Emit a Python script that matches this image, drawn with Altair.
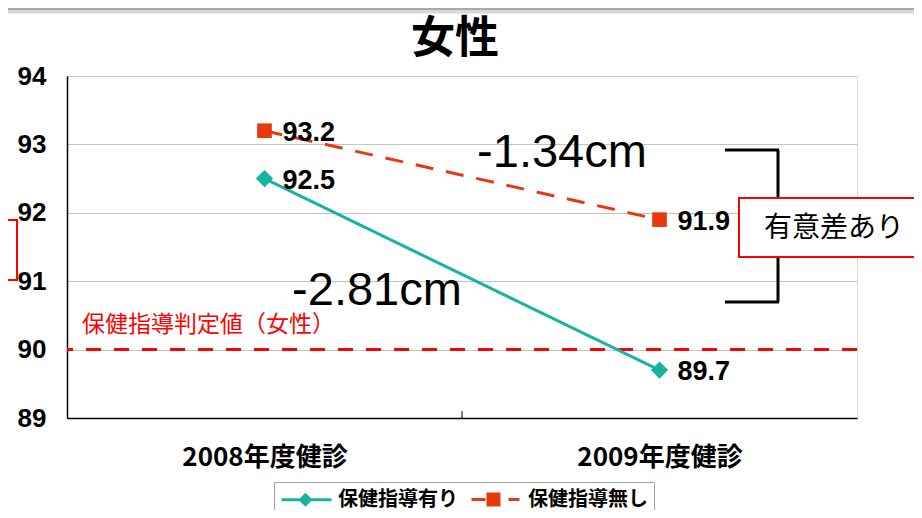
import altair as alt
import pandas as pd

# ---- data ----
categories = ["2008年度健診", "2009年度健診"]
series_names = ["保健指導有り", "保健指導無し"]
with_guidance = [92.5, 89.7]
without_guidance = [93.2, 91.9]
threshold_value = [90]
threshold_label = "保健指導判定値（女性）"
diff_texts = ["-2.81cm", "-1.34cm"]
sig_text = "有意差あり"
title_text = "女性"
y_ticks = [89, 90, 91, 92, 93, 94]

series_colors = ["#17B3A0", "#E8380D"]
CJK = "Noto Sans CJK JP"
LAT = "Liberation Sans"

rows = []
for c, a, b in zip(categories, with_guidance, without_guidance):
    rows.append({"year": c, "series": series_names[0], "value": a})
    rows.append({"year": c, "series": series_names[1], "value": b})
df = pd.DataFrame(rows)

W, H = 790, 342

x_enc = alt.X("year:N", sort=categories,
              scale=alt.Scale(domain=categories, paddingInner=0, paddingOuter=0),
              axis=alt.Axis(title=None, labelAngle=0, ticks=False, tickSize=0, grid=False,
                            labelFont=CJK, labelFontWeight="bold", labelFontSize=26,
                            labelColor="black", labelPadding=26,
                            domainColor="black", domainWidth=1.5))
y_enc = alt.Y("value:Q",
              scale=alt.Scale(domain=[89, 94], nice=False, zero=False),
              axis=alt.Axis(title=None, values=y_ticks, format="d", grid=True,
                            gridColor="#c4c4c4", gridWidth=1, ticks=False, tickSize=0,
                            labelFont=LAT, labelFontWeight="bold", labelFontSize=26,
                            labelColor="black", labelPadding=21,
                            domainColor="black", domainWidth=1.5))

color_scale = alt.Scale(domain=series_names, range=series_colors)

base = alt.Chart(df)

lines = base.mark_line(strokeWidth=3).encode(
    x=x_enc, y=y_enc,
    color=alt.Color("series:N", scale=color_scale, legend=None),
    strokeDash=alt.StrokeDash("series:N",
                              scale=alt.Scale(domain=series_names, range=[[1, 0], [18, 13]]),
                              legend=None),
)

points = base.mark_point(filled=True, opacity=1).encode(
    x=x_enc, y=y_enc,
    color=alt.Color("series:N", scale=color_scale, legend=None),
    shape=alt.Shape("series:N",
                    scale=alt.Scale(domain=series_names, range=["diamond", "square"]),
                    legend=None),
    size=alt.Size("series:N", scale=alt.Scale(domain=series_names, range=[300, 215]),
                  legend=None),
)

labels = base.mark_text(align="left", baseline="middle", dx=18, dy=2,
                        font=LAT, fontWeight="bold", fontSize=27, color="black").encode(
    x=x_enc, y=y_enc, text=alt.Text("value:Q", format=".1f"))

thr_df = pd.DataFrame({"v": threshold_value, "t": [threshold_label]})
thr_rule = alt.Chart(thr_df).mark_rule(color="#FF0000", strokeWidth=3,
                                       strokeDash=[15, 13]).encode(y=alt.Y("v:Q"))
thr_text = alt.Chart(thr_df).mark_text(align="left", baseline="middle", dy=-25,
                                       font=CJK, fontSize=23, color="#FF0000").encode(
    x=alt.value(15), y=alt.Y("v:Q"), text="t:N")

ann_df = pd.DataFrame({"t": diff_texts, "px": [310, 495], "py": [229, 91]})
ann = alt.Chart(ann_df).mark_text(align="center", baseline="alphabetic",
                                  font=LAT, fontSize=47, color="black").encode(
    x=alt.X("px:Q", scale=None), y=alt.Y("py:Q", scale=None), text="t:N")

title_mark = alt.Chart(pd.DataFrame({"t": [title_text]})).mark_text(
    align="center", baseline="middle", font=CJK, fontSize=44, fontWeight="bold",
    color="black").encode(x=alt.value(W / 2 - 7), y=alt.value(-36), text="t:N")

# bracket (black) on the right
brk_style = dict(color="black", strokeWidth=3)
b1 = alt.Chart().mark_rule(**brk_style).encode(x=alt.value(658), x2=alt.value(712), y=alt.value(74))
b2 = alt.Chart().mark_rule(**brk_style).encode(x=alt.value(711), y=alt.value(74), y2=alt.value(226))
b3 = alt.Chart().mark_rule(**brk_style).encode(x=alt.value(658), x2=alt.value(712), y=alt.value(226))

sig_box = alt.Chart().mark_rect(fill="white", stroke="#FF0000", strokeWidth=2).encode(
    x=alt.value(672), x2=alt.value(880), y=alt.value(122), y2=alt.value(181))
sig_lbl = alt.Chart(pd.DataFrame({"t": [sig_text]})).mark_text(
    align="center", baseline="middle", font=CJK, fontSize=28, color="black").encode(
    x=alt.value(767), y=alt.value(153), text="t:N")

# left red bracket (partially visible)
lb_style = dict(color="#FF0000", strokeWidth=2)
l1 = alt.Chart().mark_rule(**lb_style).encode(x=alt.value(-60), x2=alt.value(-49), y=alt.value(144))
l2 = alt.Chart().mark_rule(**lb_style).encode(x=alt.value(-50), y=alt.value(144), y2=alt.value(204))
l3 = alt.Chart().mark_rule(**lb_style).encode(x=alt.value(-60), x2=alt.value(-49), y=alt.value(204))

# top grey band
t1 = alt.Chart().mark_rule(color="#d8d8d8", strokeWidth=7).encode(
    x=alt.value(-70), x2=alt.value(900), y=alt.value(-66))
t2 = alt.Chart().mark_rule(color="#a8a8a8", strokeWidth=2).encode(
    x=alt.value(-70), x2=alt.value(900), y=alt.value(-67))

# category separator tick
sep = alt.Chart().mark_rule(color="black", strokeWidth=1).encode(
    x=alt.value(W / 2), y=alt.value(H - 7), y2=alt.value(H))

# legend built from a data-less layer
teal_path = "M-1,0H4M1.4,-0.5L1.9,0L1.4,0.5L0.9,0Z"
red_path = "M-1,0H0.4M0.65,-0.55H1.75V0.55H0.65ZM2.7,0H3.8"
legend_layer = base.mark_point(opacity=1, strokeWidth=3).encode(
    fill=alt.Fill("series:N", scale=alt.Scale(domain=series_names, range=series_colors),
                  legend=alt.Legend(title=None)),
    stroke=alt.Stroke("series:N", scale=alt.Scale(domain=series_names, range=series_colors),
                      legend=alt.Legend(title=None)),
    shape=alt.Shape("series:N", scale=alt.Scale(domain=series_names, range=[teal_path, red_path]),
                    legend=alt.Legend(title=None, orient="none", legendX=207, legendY=406,
                                      direction="horizontal", symbolSize=400,
                                      symbolStrokeWidth=3, labelFont=CJK,
                                      labelFontWeight="bold", labelFontSize=20,
                                      labelColor="black", labelOffset=35,
                                      columnPadding=7, padding=6,
                                      strokeColor="#a0a0a0", fillColor="white")),
).transform_filter("false")

chart = alt.layer(
    t1, t2, title_mark, thr_rule, thr_text, lines, points, labels, ann,
    b1, b2, b3, sig_box, sig_lbl, l1, l2, l3, sep, legend_layer,
).resolve_scale(
    shape="independent", size="independent"
).resolve_legend(
    color="independent", shape="independent", fill="independent",
    stroke="independent", strokeDash="independent", size="independent"
).properties(
    width=W, height=H,
    autosize=alt.AutoSizeParams(type="none"),
    padding={"left": 59, "top": 68, "right": 57, "bottom": 92},
).configure_view(
    stroke="black", strokeWidth=1.5
).configure(background="white")

chart.save("out.html", embed_options={"renderer": "svg", "actions": False})
